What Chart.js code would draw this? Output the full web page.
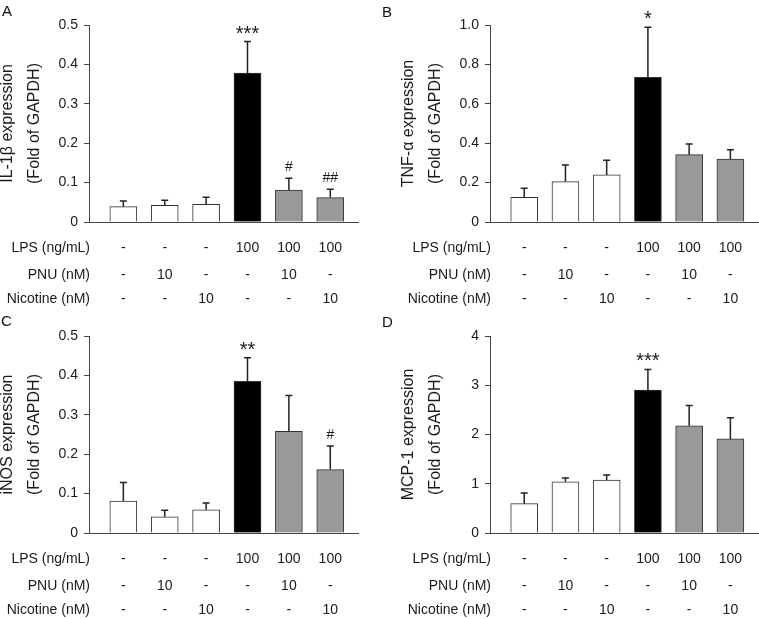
<!DOCTYPE html>
<html>
<head>
<meta charset="utf-8">
<script src="https://cdn.jsdelivr.net/npm/chart.js@4.4.0/dist/chart.umd.min.js"></script>
<style>
  html, body { margin: 0; padding: 0; background: #fff; }
  #page { position: relative; width: 759px; height: 619px; overflow: hidden; }
  .panel { position: absolute; }
  .letter { position: absolute; font: 15px "Liberation Sans", Arial, sans-serif; line-height: 15px; color: #111; }
</style>
</head>
<body>
<div id="page">
  <canvas class="panel" id="chartA" width="380" height="310" style="left:0;top:0"></canvas>
  <canvas class="panel" id="chartB" width="358" height="310" style="left:401px;top:0"></canvas>
  <canvas class="panel" id="chartC" width="380" height="308" style="left:0;top:311px"></canvas>
  <canvas class="panel" id="chartD" width="358" height="308" style="left:401px;top:311px"></canvas>
  <div class="letter" style="left:2px;top:3px">A</div>
  <div class="letter" style="left:382px;top:4px">B</div>
  <div class="letter" style="left:1px;top:313px">C</div>
  <div class="letter" style="left:382px;top:314px">D</div>
</div>
<script>
// Treatment rows printed under each panel (one entry per bar)
const rowHeaders = ['LPS (ng/mL)', 'PNU (nM)', 'Nicotine (nM)'];
const lpsRow = ['-', '-', '-', '100', '100', '100'];
const pnuRow = ['-', '10', '-', '-', '10', '-'];
const nicotineRow = ['-', '-', '10', '-', '-', '10'];

// A: IL-1beta
const il1bMean = [0.039, 0.042, 0.045, 0.378, 0.081, 0.062];
const il1bSem = [0.014, 0.013, 0.018, 0.080, 0.030, 0.021];
const il1bMarks = ['', '', '', '***', '#', '##'];
const il1bTicks = [0, 0.1, 0.2, 0.3, 0.4, 0.5];
const il1bTickLabels = ['0', '0.1', '0.2', '0.3', '0.4', '0.5'];

// B: TNF-alpha
const tnfMean = [0.125, 0.205, 0.239, 0.734, 0.342, 0.320];
const tnfSem = [0.046, 0.084, 0.074, 0.254, 0.054, 0.047];
const tnfMarks = ['', '', '', '*', '', ''];
const tnfTicks = [0, 0.2, 0.4, 0.6, 0.8, 1.0];
const tnfTickLabels = ['0', '0.2', '0.4', '0.6', '0.8', '1.0'];

// C: iNOS
const inosMean = [0.081, 0.041, 0.059, 0.385, 0.258, 0.161];
const inosSem = [0.047, 0.017, 0.017, 0.060, 0.091, 0.060];
const inosMarks = ['', '', '', '**', '', '#'];
const inosTicks = [0, 0.1, 0.2, 0.3, 0.4, 0.5];
const inosTickLabels = ['0', '0.1', '0.2', '0.3', '0.4', '0.5'];

// D: MCP-1
const mcpMean = [0.595, 1.04, 1.074, 2.90, 2.176, 1.91];
const mcpSem = [0.215, 0.075, 0.102, 0.42, 0.414, 0.43];
const mcpMarks = ['', '', '', '***', '', ''];
const mcpTicks = [0, 1, 2, 3, 4];
const mcpTickLabels = ['0', '1', '2', '3', '4'];

const barColors = ['#ffffff', '#ffffff', '#ffffff', '#000000', '#999999', '#999999'];
const axisColor = '#444';
const textColor = '#1a1a1a';
const family = '"Liberation Sans", Arial, sans-serif';

Chart.defaults.font.family = family;
Chart.defaults.color = textColor;

// upward error bars plus the significance marks above them
const errorBars = {
  id: 'errorBars',
  afterDatasetsDraw(chart) {
    const ctx = chart.ctx;
    const ds = chart.data.datasets[0];
    const meta = chart.getDatasetMeta(0);
    const y = chart.scales.y;
    ctx.save();
    ctx.strokeStyle = '#222';
    ctx.lineWidth = 1.5;
    meta.data.forEach((bar, i) => {
      const top = y.getPixelForValue(ds.data[i].y + ds.sem[i]);
      ctx.beginPath();
      ctx.moveTo(bar.x, bar.y);
      ctx.lineTo(bar.x, top);
      ctx.moveTo(bar.x - 3.5, top);
      ctx.lineTo(bar.x + 3.5, top);
      ctx.stroke();
      const mark = ds.marks[i];
      if (mark) {
        ctx.fillStyle = textColor;
        ctx.textAlign = 'center';
        ctx.textBaseline = 'alphabetic';
        if (mark.startsWith('*')) {
          ctx.font = '20px ' + family;
          ctx.fillText(mark, bar.x, top - 2);
        } else {
          ctx.font = '14px ' + family;
          ctx.fillText(mark, bar.x, top - 7);
        }
      }
    });
    ctx.restore();
  }
};

// treatment table under the x axis
const rowOffsets = [26, 53, 77];
const treatmentRows = {
  id: 'treatmentRows',
  afterDraw(chart) {
    const ctx = chart.ctx;
    const x = chart.scales.x;
    const area = chart.chartArea;
    ctx.save();
    ctx.font = '14px ' + family;
    ctx.fillStyle = textColor;
    ctx.textBaseline = 'middle';
    [lpsRow, pnuRow, nicotineRow].forEach((row, r) => {
      const yy = area.bottom + rowOffsets[r];
      ctx.textAlign = 'right';
      ctx.fillText(rowHeaders[r], area.left + 1, yy);
      ctx.textAlign = 'center';
      row.forEach((t, i) => ctx.fillText(t, x.getPixelForValue(i + 1), yy));
    });
    ctx.restore();
  }
};

function makePanel(id, p) {
  const canvas = document.getElementById(id);
  new Chart(canvas, {
    type: 'bar',
    data: {
      datasets: [{
        data: p.mean.map((v, i) => ({ x: i + 1, y: v })),
        sem: p.sem,
        marks: p.marks,
        backgroundColor: barColors,
        borderColor: '#333',
        borderWidth: 1,
        barThickness: 27
      }]
    },
    options: {
      responsive: false,
      animation: false,
      layout: { padding: { top: 25, left: 0, right: p.padRight, bottom: 0 } },
      plugins: { legend: { display: false }, tooltip: { enabled: false } },
      scales: {
        x: {
          type: 'linear',
          min: 0.17,
          max: 6.67,
          offset: false,
          grid: { display: false, offset: false },
          ticks: { display: false },
          border: { color: axisColor, width: 1 },
          afterFit: (s) => { s.height = canvas.height - 222; }
        },
        y: {
          min: 0,
          max: p.ticks[p.ticks.length - 1],
          afterBuildTicks: (s) => { s.ticks = p.ticks.map((v) => ({ value: v })); },
          ticks: {
            callback: (v, i) => p.tickLabels[i],
            font: { size: 14 },
            color: textColor,
            padding: 6
          },
          grid: { drawOnChartArea: false, tickLength: 5, color: axisColor },
          border: { color: axisColor, width: 1 },
          title: {
            display: true,
            text: p.title,
            color: textColor,
            font: { size: 16, lineHeight: 1.69 },
            padding: { top: -5.5, bottom: 0 }
          },
          afterFit: (s) => { s.width = 89; }
        }
      }
    },
    plugins: [errorBars, treatmentRows]
  });
}

makePanel('chartA', { mean: il1bMean, sem: il1bSem, marks: il1bMarks, ticks: il1bTicks,
  tickLabels: il1bTickLabels, title: ['IL-1β expression', '(Fold of GAPDH)'], padRight: 22 });
makePanel('chartB', { mean: tnfMean, sem: tnfSem, marks: tnfMarks, ticks: tnfTicks,
  tickLabels: tnfTickLabels, title: ['TNF-α expression', '(Fold of GAPDH)'], padRight: 1 });
makePanel('chartC', { mean: inosMean, sem: inosSem, marks: inosMarks, ticks: inosTicks,
  tickLabels: inosTickLabels, title: ['iNOS expression', '(Fold of GAPDH)'], padRight: 22 });
makePanel('chartD', { mean: mcpMean, sem: mcpSem, marks: mcpMarks, ticks: mcpTicks,
  tickLabels: mcpTickLabels, title: ['MCP-1 expression', '(Fold of GAPDH)'], padRight: 1 });
</script>
</body>
</html>
